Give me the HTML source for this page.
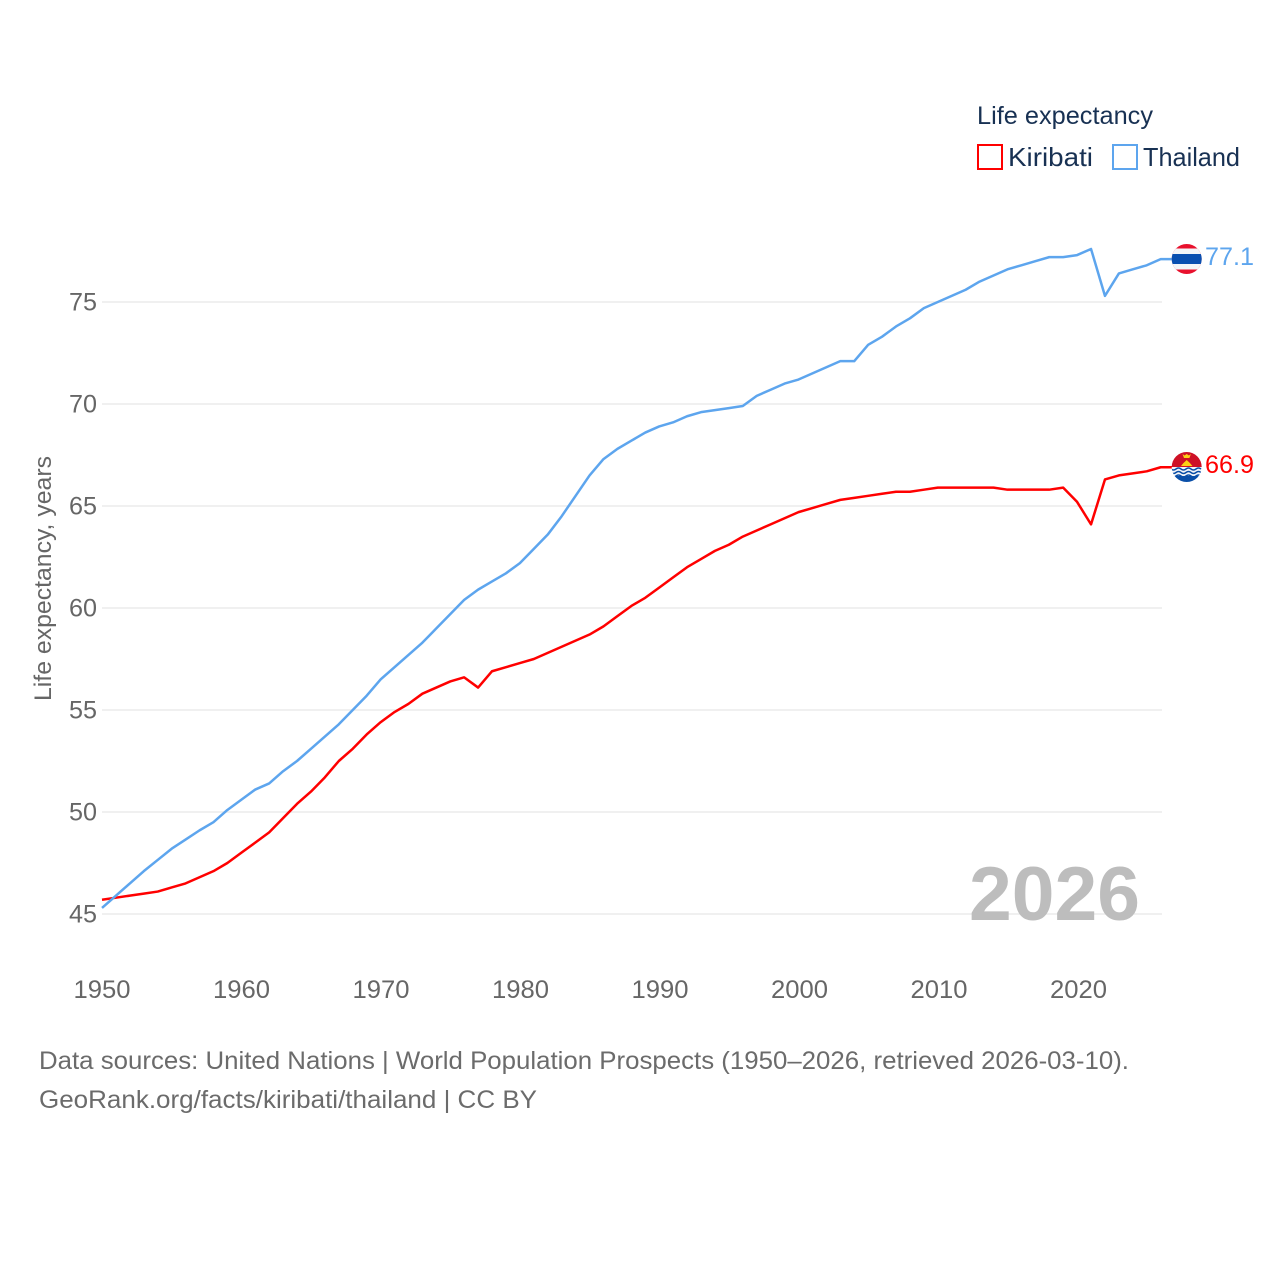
<!DOCTYPE html>
<html lang="en">
<head>
<meta charset="utf-8">
<title>Life expectancy: Kiribati and Thailand</title>
<style>
html,body{margin:0;padding:0;background:#fff;width:1280px;height:1280px;overflow:hidden}
svg{display:block}
text{font-family:"Liberation Sans",sans-serif}
</style>
</head>
<body>
<svg id="chart" xmlns="http://www.w3.org/2000/svg" width="1280" height="1280" viewBox="0 0 1280 1280">
  <defs>
    <clipPath id="flag-clip-th"><circle cx="1186.700" cy="259" r="15"/></clipPath>
    <clipPath id="flag-clip-ki"><circle cx="1186.700" cy="467" r="15"/></clipPath>
  </defs>
  <g id="grid"></g>
  <g id="y-ticks"></g>
  <g id="x-ticks"></g>
  <text x="969" y="920" font-size="76" font-weight="700" fill="#bdbdbd" textLength="171" lengthAdjust="spacingAndGlyphs">2026</text>
  <g id="series"></g>

  <text transform="translate(51 701) rotate(-90)" font-size="24" fill="#666" textLength="245" lengthAdjust="spacingAndGlyphs">Life expectancy, years</text>

  <g>
    <text x="977" y="124" font-size="25" fill="#183153" textLength="176" lengthAdjust="spacingAndGlyphs">Life expectancy</text>
    <rect x="978" y="145" width="24" height="24" fill="none" stroke="#ff0000" stroke-width="2"/>
    <text x="1008" y="166" font-size="26" fill="#183153" textLength="85" lengthAdjust="spacingAndGlyphs">Kiribati</text>
    <rect x="1113" y="145" width="24" height="24" fill="none" stroke="#5da5ee" stroke-width="2"/>
    <text x="1143" y="166" font-size="26" fill="#183153" textLength="97" lengthAdjust="spacingAndGlyphs">Thailand</text>
  </g>

  <g clip-path="url(#flag-clip-th)">
    <rect x="1171" y="244" width="31" height="30" fill="#e8112d"/>
    <rect x="1171" y="248.500" width="31" height="21" fill="#f4f5f8"/>
    <rect x="1171" y="254" width="31" height="10" fill="#0a4fb0"/>
  </g>
  <g clip-path="url(#flag-clip-ki)">
    <rect x="1171" y="452" width="31" height="15" fill="#ce1126"/>
    <rect x="1171" y="467" width="31" height="15" fill="#f4f5f8"/>
    <rect x="1171" y="476" width="31" height="7" fill="#0a4fa8"/>
    <path d="M1182.500 454l2 1.500 2.200-1.500 2.200 1.500 2-1.500-1.500 4h-5.400z" fill="#fcd116"/>
    <path d="M1181 466l2.500-3 3.200-3 3.200 3 2.500 3z" fill="#fcd116"/>
    <path d="M1171 469q2.500 2 5 0t5 0 5 0 5 0 5 0 5 0M1171 472.500q2.500 2 5 0t5 0 5 0 5 0 5 0 5 0M1171 476q2.500 2 5 0t5 0 5 0 5 0 5 0 5 0" fill="none" stroke="#0a4fa8" stroke-width="1.500"/>
  </g>

  <text x="1205" y="265" font-size="25" fill="#5da5ee" textLength="49" lengthAdjust="spacingAndGlyphs">77.1</text>
  <text x="1205" y="473" font-size="25" fill="#ff0000" textLength="49" lengthAdjust="spacingAndGlyphs">66.9</text>

  <text x="39" y="1069" font-size="25" fill="#6b6b6b" textLength="1090" lengthAdjust="spacingAndGlyphs">Data sources: United Nations | World Population Prospects (1950–2026, retrieved 2026-03-10).</text>
  <text x="39" y="1108" font-size="25" fill="#6b6b6b" textLength="498" lengthAdjust="spacingAndGlyphs">GeoRank.org/facts/kiribati/thailand | CC BY</text>
</svg>
<script>
const startYear = 1950;
const xTickLabels = [1950, 1960, 1970, 1980, 1990, 2000, 2010, 2020];
const yTickLabels = [45, 50, 55, 60, 65, 70, 75];
const kiribatiValues = [45.7,45.8,45.9,46.0,46.1,46.3,46.5,46.8,47.1,47.5,48.0,48.5,49.0,49.7,50.4,51.0,51.7,52.5,53.1,53.8,54.4,54.9,55.3,55.8,56.1,56.4,56.6,56.1,56.9,57.1,57.3,57.5,57.8,58.1,58.4,58.7,59.1,59.6,60.1,60.5,61.0,61.5,62.0,62.4,62.8,63.1,63.5,63.8,64.1,64.4,64.7,64.9,65.1,65.3,65.4,65.5,65.6,65.7,65.7,65.8,65.9,65.9,65.9,65.9,65.9,65.8,65.8,65.8,65.8,65.9,65.2,64.1,66.3,66.5,66.6,66.7,66.9];
const thailandValues = [45.3,45.9,46.5,47.1,47.65,48.2,48.65,49.1,49.5,50.1,50.6,51.1,51.4,52.0,52.5,53.1,53.7,54.3,55.0,55.7,56.5,57.1,57.7,58.3,59.0,59.7,60.4,60.9,61.3,61.7,62.2,62.9,63.6,64.5,65.5,66.5,67.3,67.8,68.2,68.6,68.9,69.1,69.4,69.6,69.7,69.8,69.9,70.4,70.7,71.0,71.2,71.5,71.8,72.1,72.1,72.9,73.3,73.8,74.2,74.7,75.0,75.3,75.6,76.0,76.3,76.6,76.8,77.0,77.2,77.2,77.3,77.6,75.3,76.4,76.6,76.8,77.1];

const NS = 'http://www.w3.org/2000/svg';
const plotLeft = 102, plotRight = 1162, connectorEnd = 1172;
const xScale = function (year) { return 102 + (year - 1950) * 13.93; };
const xLabelScale = function (year) { return 102 + (year - 1950) * 13.95; };
const yScale = function (value) { return 914 - (value - 45) * 20.4; };

function make(tag, attrs, parent) {
  const el = document.createElementNS(NS, tag);
  Object.keys(attrs).forEach(function (k) { el.setAttribute(k, attrs[k]); });
  parent.appendChild(el);
  return el;
}

const gridGroup = document.getElementById('grid');
const yGroup = document.getElementById('y-ticks');
const xGroup = document.getElementById('x-ticks');
const seriesGroup = document.getElementById('series');

yTickLabels.forEach(function (v) {
  const line = make('line', {x1: plotLeft, x2: plotRight, y1: yScale(v), y2: yScale(v), stroke: '#ebebeb', 'stroke-width': 1.5}, gridGroup);
  
  
  const t = make('text', {x: 97, y: yScale(v) + 8.5, 'text-anchor': 'end', 'font-size': 25, fill: '#666', textLength: 28, lengthAdjust: 'spacingAndGlyphs'}, yGroup);
  
  
  t.textContent = String(v);
});

xTickLabels.forEach(function (y) {
  const t = make('text', {x: xLabelScale(y), y: 998, 'text-anchor': 'middle', 'font-size': 25, fill: '#666', textLength: 57, lengthAdjust: 'spacingAndGlyphs'}, xGroup);
  
  
  t.textContent = String(y);
});

function drawSeries(values, color) {
  const pts = values.map(function (v, i) { return xScale(startYear + i).toFixed(2) + ',' + yScale(v).toFixed(2); });
  pts.push(connectorEnd + ',' + yScale(values[values.length - 1]).toFixed(2));
  return make('polyline', {points: pts.join(' '), fill: 'none', stroke: color, 'stroke-width': 2.5, 'stroke-linejoin': 'round'}, seriesGroup);
}

const kiribatiLine = drawSeries(kiribatiValues, '#ff0000');



const thailandLine = drawSeries(thailandValues, '#5da5ee');


</script>
</body>
</html>
